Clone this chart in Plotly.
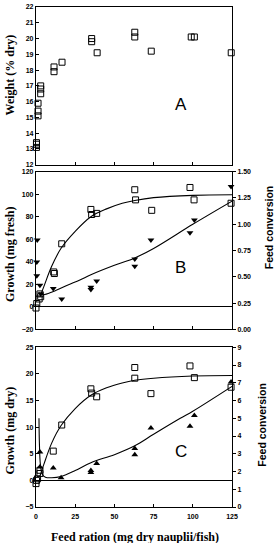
import plotly.graph_objects as go

# ---------------- data ----------------
A_ration = [0.3, 0.3, 0.3, 1.3, 1.3, 1.3, 3, 3, 3, 11.5, 11.5, 16.6, 35.5, 35.5, 39, 63, 63, 73.5, 99, 101, 124.5]
A_weight = [13.1, 13.3, 13.4, 15.9, 15.4, 15.1, 17.0, 16.8, 16.5, 18.2, 17.9, 18.5, 20.0, 19.8, 19.1, 20.4, 20.1, 19.2, 20.1, 20.1, 19.1]

B_sq_x = [0, 0.5, 2, 2.5, 3, 11.3, 11.7, 16.4, 35, 35.5, 38.7, 63, 63.5, 73.8, 98.2, 100.8, 124.4]
B_sq_y = [-1, 3, 7, 11.5, 9, 31, 29.6, 56, 86.5, 82, 83, 104, 95, 85.7, 106, 95, 92]
B_tri_x = [0.8, 0.5, 0.5, 2.5, 3, 11, 16.4, 35, 35, 38.7, 63, 63, 73.3, 98.2, 101, 124.4]
B_tri_fc = [0.85, 0.64, 0.51, 0.42, 0.34, 0.39, 0.29, 0.40, 0.38, 0.46, 0.67, 0.60, 0.85, 0.92, 1.04, 1.36]
B_sq_fit_x = [2.5, 5, 10, 16, 25, 35, 45, 55, 63, 75, 100, 125]
B_sq_fit_y = [9, 18, 36, 52, 67, 80, 87, 92, 94.5, 97, 99, 99.5]
B_tri_fit_x = [2, 4.5, 11, 20, 28, 35, 50, 63, 75, 100, 125]
B_tri_fit_fc = [0.35, 0.33, 0.36, 0.42, 0.47, 0.52, 0.61, 0.68, 0.77, 1.0, 1.22]

C_sq_x = [0, 0.3, 1, 2.5, 2.5, 11, 16.4, 35, 35.5, 38.7, 63, 63, 73.3, 98.2, 101, 124.4]
C_sq_y = [-0.6, 0, 0.3, 1.3, 1.9, 5.5, 10.4, 17.2, 16.4, 15.7, 21.2, 19.2, 16.3, 21.5, 19.3, 17.5]
C_tri_x = [2.5, 2.5, 11, 16, 35, 35, 38.7, 63, 63, 73.3, 98.2, 101, 124.4]
C_tri_fc = [3.1, 2.25, 2.2, 1.65, 2.05, 1.95, 2.45, 3.3, 2.95, 4.45, 4.55, 5.15, 7.05]
C_sq_fit_x = [2.5, 5, 10, 16, 25, 35, 45, 55, 63, 75, 100, 125]
C_sq_fit_y = [0.8, 3, 7, 10.3, 13.5, 16, 17.4, 18.3, 18.8, 19.2, 19.6, 19.7]
C_tri_fit_x = [1.9, 2.2, 2.8, 4, 6, 10, 16, 25, 35, 50, 63, 75, 92, 100, 125]
C_tri_fit_fc = [5.0, 3.5, 2.4, 1.85, 1.68, 1.65, 1.72, 2.05, 2.5, 2.95, 3.45, 4.1, 5.0, 5.4, 6.8]

x_ticks = [0, 25, 50, 75, 100, 125]

# ---------------- styles ----------------
TICKFONT = dict(family="Liberation Sans", size=7, color="black", weight="bold")
sq = dict(symbol="square-open", size=6, color="black", line=dict(width=1, color="black"))
line_style = dict(color="black", width=1.1, shape="spline")

fig = go.Figure()

# Panel A
fig.add_trace(go.Scatter(x=A_ration, y=A_weight, mode="markers", marker=sq,
                         xaxis="x", yaxis="y", cliponaxis=False))
# Panel B
fig.add_trace(go.Scatter(x=B_sq_fit_x, y=B_sq_fit_y, mode="lines", line=line_style,
                         xaxis="x2", yaxis="y2"))
fig.add_trace(go.Scatter(x=B_sq_x, y=B_sq_y, mode="markers", marker=sq,
                         xaxis="x2", yaxis="y2", cliponaxis=False))
fig.add_trace(go.Scatter(x=B_tri_fit_x, y=B_tri_fit_fc, mode="lines", line=line_style,
                         xaxis="x2", yaxis="y4"))
fig.add_trace(go.Scatter(x=B_tri_x, y=B_tri_fc, mode="markers",
                         marker=dict(symbol="triangle-down", size=6, color="black"),
                         xaxis="x2", yaxis="y4", cliponaxis=False))
# Panel C
fig.add_trace(go.Scatter(x=C_sq_fit_x, y=C_sq_fit_y, mode="lines", line=line_style,
                         xaxis="x3", yaxis="y3"))
fig.add_trace(go.Scatter(x=C_sq_x, y=C_sq_y, mode="markers", marker=sq,
                         xaxis="x3", yaxis="y3", cliponaxis=False))
fig.add_trace(go.Scatter(x=C_tri_fit_x, y=C_tri_fit_fc, mode="lines", line=line_style,
                         xaxis="x3", yaxis="y5"))
fig.add_trace(go.Scatter(x=C_tri_x, y=C_tri_fc, mode="markers",
                         marker=dict(symbol="triangle-up", size=6, color="black"),
                         xaxis="x3", yaxis="y5", cliponaxis=False))

common_x = dict(range=[0, 125], tickvals=x_ticks, ticks="inside", ticklen=3,
                showline=True, linecolor="black", linewidth=1.2, mirror=True,
                showgrid=False, zeroline=False, tickfont=TICKFONT, tickcolor="black")
common_y = dict(ticks="inside", ticklen=3, showline=True, linecolor="black", linewidth=1.2,
                mirror=True, showgrid=False, tickfont=TICKFONT, tickcolor="black")

fig.update_layout(
    width=277, height=543,
    margin=dict(l=36, r=45, t=3, b=36),
    paper_bgcolor="white", plot_bgcolor="white",
    showlegend=False,
    xaxis=dict(common_x, anchor="y", showticklabels=False),
    xaxis2=dict(common_x, anchor="y2", showticklabels=False),
    xaxis3=dict(common_x, anchor="y3", showticklabels=True, ticklabelstandoff=2),
    yaxis=dict(common_y, domain=[0.6845, 1.0], range=[12, 22], dtick=1, zeroline=False),
    yaxis2=dict(common_y, domain=[0.3552, 0.6706], range=[-20, 120], dtick=20,
                zeroline=True, zerolinecolor="black", zerolinewidth=1.2),
    yaxis3=dict(common_y, domain=[0.0, 0.3194], range=[-5, 25], dtick=5,
                zeroline=True, zerolinecolor="black", zerolinewidth=1.2),
    yaxis4=dict(overlaying="y2", side="right", anchor="x2", range=[0, 1.5], dtick=0.25,
                tickformat=".2f", ticks="outside", ticklen=3, showline=False, showgrid=False,
                zeroline=False, tickfont=TICKFONT, tickcolor="black"),
    yaxis5=dict(overlaying="y3", side="right", anchor="x3", range=[0, 9], dtick=1,
                ticks="outside", ticklen=3, showline=False, showgrid=False,
                zeroline=False, tickfont=TICKFONT, tickcolor="black"),
)

SERIF = dict(family="Liberation Serif", size=12, color="black", weight="bold")
SANS_T = dict(family="Liberation Sans", size=10.5, color="black", weight="bold")
LETTER = dict(family="Liberation Sans", size=17, color="black")

def py(p):
    # pixel y (from top) -> paper y
    return (507 - p) / 504.0
def px(p):
    return (p - 36) / 196.0

annots = [
    dict(text="Weight (% dry)", x=px(10), y=py(72), textangle=-90, font=SERIF),
    dict(text="Growth (mg fresh)", x=px(10), y=py(252), textangle=-90, font=SERIF),
    dict(text="Growth (mg dry)", x=px(10), y=py(430), textangle=-90, font=SERIF),
    dict(text="Feed conversion", x=px(269), y=py(226), textangle=-90, font=SANS_T),
    dict(text="Feed conversion", x=px(262), y=py(425), textangle=-90, font=SANS_T),
    dict(text="Feed ration (mg dry nauplii/fish)", x=px(135), y=py(537), font=SERIF),
    dict(text="A", x=px(181), y=py(101), font=LETTER),
    dict(text="B", x=px(180), y=py(266), font=LETTER),
    dict(text="C", x=px(181), y=py(451), font=LETTER),
]
for a in annots:
    fig.add_annotation(xref="paper", yref="paper", showarrow=False,
                       xanchor="center", yanchor="middle", **a)

fig.write_html("out.html")
